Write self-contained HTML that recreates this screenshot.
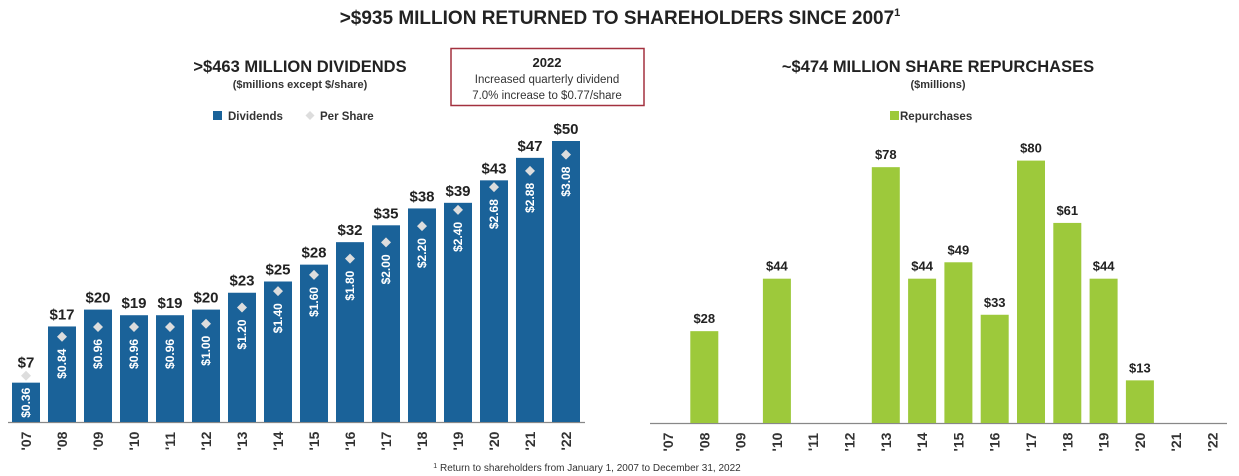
<!DOCTYPE html>
<html><head><meta charset="utf-8"><style>
html,body{margin:0;padding:0;background:#fff;width:1239px;height:476px;overflow:hidden;font-family:"Liberation Sans",Arial,sans-serif}
</style></head><body>
<svg id="s" width="1239" height="476" xmlns="http://www.w3.org/2000/svg" font-family="Liberation Sans, Arial, sans-serif">
<text x="620" y="24" text-anchor="middle" font-size="19" font-weight="bold" fill="#222">&gt;$935 MILLION RETURNED TO SHAREHOLDERS SINCE 2007<tspan font-size="11" dy="-8">1</tspan></text>
<text x="300" y="72" text-anchor="middle" font-size="16.5" font-weight="bold" fill="#222">&gt;$463 MILLION DIVIDENDS</text>
<text x="300" y="88" text-anchor="middle" font-size="11" font-weight="bold" fill="#333">($millions except $/share)</text>
<g>
<rect x="213" y="111" width="9" height="9" fill="#1a6299"/>
<text x="228" y="120" font-size="11.5" font-weight="bold" fill="#333">Dividends</text>
<path d="M310,111 L314.5,115.5 L310,120 L305.5,115.5Z" fill="#ddd"/>
<text x="320" y="120" font-size="11.5" font-weight="bold" fill="#333">Per Share</text>
</g>
<g>
<rect x="451" y="48.5" width="193" height="57" fill="#fff" stroke="#a3313f" stroke-width="1.5"/>
<text x="547" y="67" text-anchor="middle" font-size="13" font-weight="bold" fill="#222">2022</text>
<text x="547" y="83" text-anchor="middle" font-size="11.5" fill="#333">Increased quarterly dividend</text>
<text x="547" y="99" text-anchor="middle" font-size="11.5" fill="#333">7.0% increase to $0.77/share</text>
</g>
<text x="938" y="72" text-anchor="middle" font-size="16.5" font-weight="bold" fill="#222">~$474 MILLION SHARE REPURCHASES</text>
<text x="938" y="88" text-anchor="middle" font-size="11" font-weight="bold" fill="#333">($millions)</text>
<rect x="890" y="111" width="9" height="9" fill="#9dc93b"/>
<text x="900" y="120" font-size="11.5" font-weight="bold" fill="#333">Repurchases</text>
<line x1="8" y1="422.5" x2="585" y2="422.5" stroke="#888" stroke-width="1.2"/>
<line x1="650" y1="423.5" x2="1227" y2="423.5" stroke="#888" stroke-width="1.2"/>
<text x="587" y="471" text-anchor="middle" font-size="10" fill="#333"><tspan font-size="7" dy="-3">1</tspan><tspan dy="3"> Return to shareholders from January 1, 2007 to December 31, 2022</tspan></text>
</svg>
<script>
const years=["'07","'08","'09","'10","'11","'12","'13","'14","'15","'16","'17","'18","'19","'20","'21","'22"];
const dividends=[7,17,20,19,19,20,23,25,28,32,35,38,39,43,47,50];
const perShare=[0.36,0.84,0.96,0.96,0.96,1.00,1.20,1.40,1.60,1.80,2.00,2.20,2.40,2.68,2.88,3.08];
const repurchases=[0,28,0,44,0,0,78,44,49,33,80,61,44,13,0,0];
const svg=document.getElementById('s');
const NS='http://www.w3.org/2000/svg';
function mk(tag,attrs,txt){const e=document.createElementNS(NS,tag);for(const k in attrs)e.setAttribute(k,attrs[k]);if(txt!==undefined)e.textContent=txt;svg.appendChild(e);return e;}
const xL=i=>26+36*i, yL=v=>422-5.62*v, yPS=v=>405-81.3*v;
const xR=i=>668+36.3*i, yR=v=>423-3.28*v;
years.forEach((y,i)=>{
  const cx=xL(i),top=yL(dividends[i]);
  const dy=yPS(perShare[i]);
  const b=mk('rect',{x:cx-14,y:top,width:28,height:422-top,fill:'#1a6299'});
  
  
  const ly=Math.min(top-7,dy-8);
  const t=mk('text',{x:cx,y:ly,'text-anchor':'middle','font-size':15,'font-weight':'bold',fill:'#222'},'$'+dividends[i]);
  
  
  const d=mk('path',{d:`M${cx},${dy-5} L${cx+5},${dy} L${cx},${dy+5} L${cx-5},${dy}Z`,fill:'#ddd'});
  
  
  const ty=dy+27;
  const p=mk('text',{x:cx,y:ty+4,'text-anchor':'middle','font-size':12,'font-weight':'bold',fill:'#fff',transform:`rotate(-90 ${cx} ${ty})`},'$'+perShare[i].toFixed(2));
  
  
  const yl=mk('text',{x:cx,y:441+5,'text-anchor':'middle','font-size':14,'font-weight':'bold',fill:'#333',transform:`rotate(-90 ${cx} 441)`},y);
  
  
  const rx=xR(i);
  if(repurchases[i]>0){
    const rt=yR(repurchases[i]);
    const rb=mk('rect',{x:rx-14,y:rt,width:28,height:423-rt,fill:'#9dc93b'});
    
    
    const rl=mk('text',{x:rx,y:rt-8,'text-anchor':'middle','font-size':13,'font-weight':'bold',fill:'#222'},'$'+repurchases[i]);
    
    
  }
  const ry=mk('text',{x:rx,y:442+5,'text-anchor':'middle','font-size':14,'font-weight':'bold',fill:'#333',transform:`rotate(-90 ${rx} 442)`},y);
  
  
});
</script>
</body></html>
